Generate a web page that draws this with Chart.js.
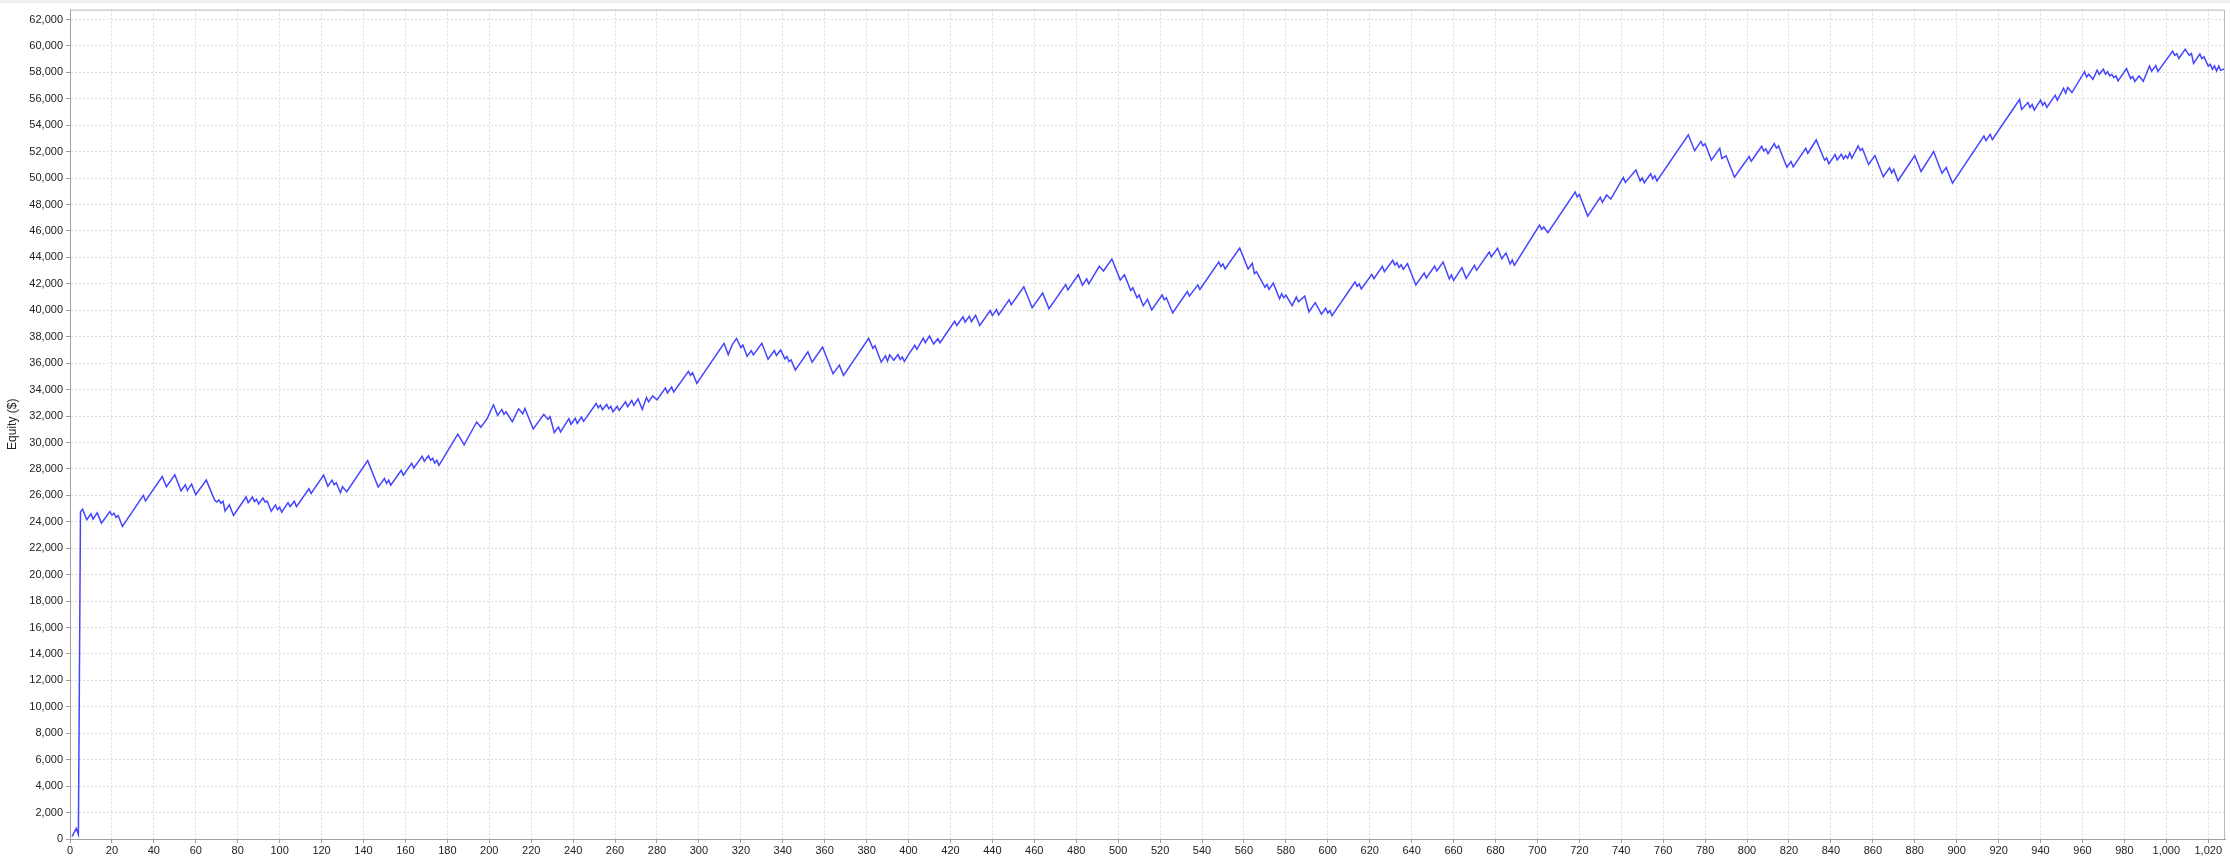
<!DOCTYPE html>
<html>
<head>
<meta charset="utf-8">
<script src="https://cdn.jsdelivr.net/npm/chart.js@4/dist/chart.umd.min.js"></script>
<style>
  html, body { margin: 0; padding: 0; background: #fff; }
  canvas { display: block; }
</style>
</head>
<body>
<canvas id="equityChart" width="2230" height="859"></canvas>
<script>
// trade number at each turning point of the equity curve
const trades = [
  1, 3, 4, 5, 6, 8, 10, 11, 13, 15, 19, 20, 21, 22, 23, 25, 35, 36, 44, 46, 50, 53, 55, 56, 58, 60,
  65, 69, 70, 71, 72, 73, 74, 76, 78, 84, 85, 87, 88, 89, 90, 92, 93, 94, 96, 98, 99, 100, 101, 104,
  105, 107, 108, 114, 115, 121, 123, 125, 126, 127, 129, 130, 132, 142, 147, 150, 151, 152, 153, 158,
  159, 163, 164, 168, 169, 171, 172, 173, 174, 175, 176, 185, 188, 194, 196, 199, 202, 204, 206, 207,
  208, 211, 214, 216, 217, 221, 226, 228, 229, 231, 233, 234, 238, 239, 241, 242, 244, 245, 251, 252,
  253, 254, 256, 257, 258, 259, 261, 262, 265, 266, 268, 269, 271, 273, 275, 276, 278, 280, 284, 285,
  287, 288, 295, 296, 297, 299, 312, 314, 316, 318, 320, 321, 323, 325, 326, 330, 333, 336, 337, 339,
  341, 342, 343, 344, 346, 352, 354, 359, 364, 367, 369, 381, 383, 384, 387, 389, 390, 391, 393, 395,
  396, 397, 398, 400, 403, 404, 407, 408, 410, 412, 414, 415, 422, 423, 426, 427, 429, 430, 432, 434,
  439, 440, 442, 443, 448, 449, 455, 459, 464, 467, 475, 476, 481, 483, 485, 486, 491, 493, 497, 501,
  503, 506, 507, 509, 510, 512, 514, 516, 521, 522, 523, 526, 533, 534, 538, 539, 548, 549, 550, 551,
  558, 562, 564, 565, 566, 570, 571, 572, 574, 577, 578, 579, 580, 583, 585, 586, 589, 591, 594, 597,
  599, 600, 601, 602, 613, 614, 615, 616, 621, 622, 626, 627, 631, 632, 633, 634, 635, 636, 638, 642,
  646, 647, 651, 652, 655, 658, 659, 660, 664, 666, 670, 671, 677, 678, 681, 683, 685, 687, 688, 689,
  701, 702, 703, 705, 718, 719, 720, 724, 730, 731, 733, 735, 741, 742, 747, 749, 750, 751, 754, 755,
  756, 757, 772, 775, 778, 779, 780, 783, 787, 788, 790, 794, 801, 802, 807, 808, 809, 810, 813, 814,
  815, 819, 821, 822, 828, 829, 833, 837, 838, 839, 842, 843, 845, 846, 847, 848, 849, 850, 853, 854,
  855, 858, 861, 865, 868, 869, 870, 872, 880, 883, 889, 893, 895, 898, 913, 914, 916, 917, 930, 931,
  934, 935, 936, 937, 940, 941, 942, 943, 947, 948, 951, 952, 953, 955, 961, 962, 963, 965, 967, 968,
  970, 971, 972, 973, 974, 975, 976, 977, 981, 983, 984, 985, 987, 989, 992, 993, 995, 996, 1003, 1004,
  1005, 1006, 1009, 1011, 1012, 1013, 1016, 1017, 1018, 1020, 1021, 1022, 1023, 1024, 1025, 1026, 1028
];

// equity ($) at those trades
const equity = [
  200, 800, 350, 24750, 24950, 24150, 24600, 24200, 24675, 23900, 24775, 24500, 24650, 24325, 24475, 23650, 26000, 25575, 27425, 26650, 27550, 26350, 26800, 26375, 26850, 26050,
  27150, 25650, 25500, 25650, 25400, 25550, 24800, 25275, 24475, 25875, 25450, 25875, 25525, 25700, 25350, 25800, 25500, 25575, 24800, 25275, 24925, 25100, 24725, 25450,
  25150, 25550, 25150, 26500, 26150, 27525, 26700, 27150, 26800, 26950, 26200, 26650, 26275, 28625, 26625, 27275, 26900, 27150, 26775, 27900,
  27525, 28425, 28075, 28950, 28575, 29000, 28650, 28800, 28450, 28650, 28275, 30625, 29825, 31550, 31150, 31800, 32850, 32050, 32500, 32125,
  32325, 31575, 32550, 32175, 32575, 31025, 32125, 31750, 31950, 30750, 31175, 30800, 31800, 31375, 31825, 31450, 31925, 31600, 32950, 32625,
  32825, 32475, 32875, 32550, 32725, 32325, 32725, 32425, 33075, 32700, 33175, 32800, 33300, 32500, 33400, 33075, 33525, 33225, 34125, 33750,
  34200, 33825, 35375, 35075, 35275, 34475, 37500, 36650, 37425, 37875, 37175, 37375, 36525, 36950, 36625, 37500, 36300, 36950, 36575, 37000,
  36325, 36500, 36125, 36250, 35475, 36850, 36075, 37225, 35200, 35850, 35075, 37875, 37125, 37325, 36075, 36550, 36150, 36625, 36225, 36650,
  36275, 36475, 36125, 36650, 37350, 37050, 37900, 37550, 38050, 37450, 37850, 37550, 39175, 38850, 39500, 39100, 39550, 39150, 39625, 38850,
  39975, 39600, 40050, 39650, 40800, 40425, 41775, 40200, 41300, 40125, 41950, 41550, 42700, 41900, 42375, 42000, 43325, 42975, 43875, 42300,
  42700, 41500, 41700, 40950, 41150, 40350, 40825, 40025, 41150, 40800, 40950, 39800, 41425, 41075, 41925, 41575, 43650, 43300, 43500, 43125,
  44700, 43125, 43550, 42775, 42925, 41750, 41950, 41575, 42050, 40875, 41250, 40950, 41150, 40350, 41000, 40650, 41075, 39875, 40575, 39720,
  40150, 39800, 39975, 39600, 42140, 41815, 41990, 41610, 42720, 42395, 43325, 42925, 43780, 43425, 43600, 43250, 43450, 43100, 43530, 41915,
  42820, 42445, 43350, 42975, 43655, 42370, 42670, 42270, 43225, 42420, 43400, 43025, 44410, 44030, 44690, 43905, 44335, 43500, 43805, 43400,
  46450, 46125, 46300, 45870, 48950, 48570, 48770, 47130, 48540, 48165, 48720, 48415, 50055, 49675, 50610, 49780, 50005, 49650, 50330, 49955,
  50180, 49780, 53280, 52070, 52775, 52450, 52600, 51365, 52250, 51490, 51690, 50065, 51630, 51280, 52410, 52060, 52210, 51855, 52610, 52260,
  52435, 50830, 51255, 50855, 52260, 51880, 52885, 51355, 51530, 51080, 51780, 51380, 51805, 51455, 51705, 51505, 51910, 51505, 52435, 52110,
  52235, 51030, 51705, 50100, 50780, 50400, 50650, 49800, 51705, 50500, 52010, 50375, 50800, 49620, 53190, 52835, 53315, 52910, 55950, 55195,
  55720, 55345, 55570, 55145, 55900, 55520, 55720, 55345, 56275, 55900, 56800, 56425, 56850, 56475, 58055, 57655, 57855, 57480, 58160, 57855,
  58235, 57855, 58055, 57730, 57855, 57605, 57730, 57355, 58285, 57530, 57680, 57305, 57730, 57330, 58485, 58080, 58510, 58080, 59610, 59290,
  59410, 59060, 59740, 59290, 59440, 58685, 59385, 59035, 59185, 58485, 58610, 58230, 58485, 58105, 58485, 58155, 58280
];

// axis ranges and tick steps
const xMax = 1028;
const xStep = 20;
const yMax = 62750;
const yStep = 2000;

const labelFont = { family: 'Liberation Sans', size: 11 };

function stepTicks(max, step) {
  const out = [];
  for (let v = 0; v <= max; v += step) out.push({ value: v });
  return out;
}

// light frame around the plot like the original
const framePlugin = {
  id: 'frame',
  beforeDraw(chart) {
    const c = chart.ctx;
    c.save();
    c.fillStyle = '#ffffff';
    c.fillRect(0, 0, chart.width, chart.height);
    c.fillStyle = '#eeeeee';
    c.fillRect(0, 0, chart.width, 3);
    c.restore();
  },
  afterDraw(chart) {
    const a = chart.chartArea;
    const c = chart.ctx;
    c.save();
    c.strokeStyle = '#b8b8b8';
    c.lineWidth = 1;
    c.beginPath();
    c.moveTo(a.left, a.top + 0.5);
    c.lineTo(a.right - 0.5, a.top + 0.5);
    c.lineTo(a.right - 0.5, a.bottom);
    c.stroke();
    c.restore();
  }
};

const ctx = document.getElementById('equityChart');
new Chart(ctx, {
  type: 'line',
  data: {
    datasets: [{
      label: 'Equity',
      data: trades.map((t, i) => ({ x: t, y: equity[i] })),
      borderColor: '#4545ff',
      borderWidth: 1.5,
      pointRadius: 0,
      tension: 0,
      fill: false
    }]
  },
  options: {
    responsive: false,
    animation: false,
    layout: { padding: { top: 7, right: 5, left: 0, bottom: 0 } },
    plugins: {
      legend: { display: false },
      tooltip: { enabled: false }
    },
    scales: {
      x: {
        type: 'linear',
        min: 0,
        max: xMax,
        afterBuildTicks: (s) => { s.ticks = stepTicks(xMax, xStep); },
        afterFit: (s) => { s.height = 20; },
        ticks: {
          autoSkip: false,
          maxRotation: 0,
          padding: 1,
          color: '#222',
          font: labelFont,
          callback: (v) => v.toLocaleString('en-US')
        },
        grid: { color: '#dadada', tickColor: '#a0a0a0', tickLength: 4 },
        border: { color: '#a0a0a0', width: 1, dash: [2, 2] }
      },
      y: {
        min: 0,
        max: yMax,
        afterBuildTicks: (s) => { s.ticks = stepTicks(yMax, yStep); },
        afterFit: (s) => { s.width = 70; },
        ticks: {
          autoSkip: false,
          padding: 3,
          color: '#222',
          font: labelFont,
          callback: (v) => v.toLocaleString('en-US')
        },
        grid: { color: '#dadada', tickColor: '#a0a0a0', tickLength: 4 },
        border: { color: '#a0a0a0', width: 1, dash: [2, 2] },
        title: {
          display: true,
          text: 'Equity ($)',
          color: '#222',
          font: { family: 'Liberation Sans', size: 12 },
          padding: { top: 5, bottom: 0 }
        }
      }
    }
  },
  plugins: [framePlugin]
});
</script>
</body>
</html>
